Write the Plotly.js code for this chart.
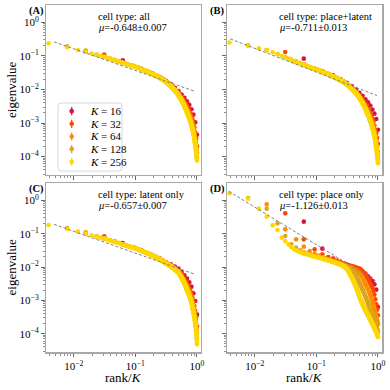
<!DOCTYPE html>
<html>
<head>
<meta charset="utf-8">
<script src="https://cdn.plot.ly/plotly-3.0.1.min.js"></script>
<style>
  html, body { margin: 0; padding: 0; background: #fff; }
  #chart { width: 390px; height: 390px; }
</style>
</head>
<body>
<div id="chart"></div>
<script>
// log10(eigenvalue), listed by rank 1..K for each K (x = rank/K)

// --- (A) cell type: all ---
const lgA16 = [-1.13,-1.38,-1.52,-1.64,-1.74,-1.84,-1.95,-2.05,-2.15,-2.25,-2.35,-2.46,-2.59,-2.75,-2.98,-3.35];
const lgA32 = [-0.96,-1.20,-1.30,-1.39,-1.46,-1.53,-1.59,-1.63,-1.69,-1.75,-1.81,-1.87,-1.93,-1.99,-2.05,-2.10,
  -2.17,-2.23,-2.29,-2.36,-2.43,-2.50,-2.57,-2.64,-2.72,-2.80,-2.89,-3.00,-3.13,-3.28,-3.46,-3.70];
const lgA64 = [-0.84,-1.02,-1.12,-1.20,-1.26,-1.30,-1.34,-1.39,-1.43,-1.46,-1.49,-1.53,-1.56,-1.59,-1.62,-1.64,
  -1.67,-1.70,-1.73,-1.76,-1.79,-1.82,-1.85,-1.88,-1.91,-1.95,-1.98,-2.01,-2.04,-2.07,-2.10,-2.13,
  -2.17,-2.20,-2.24,-2.27,-2.31,-2.35,-2.38,-2.42,-2.47,-2.50,-2.54,-2.58,-2.62,-2.66,-2.70,-2.74,
  -2.78,-2.83,-2.87,-2.92,-2.97,-3.02,-3.08,-3.14,-3.20,-3.29,-3.37,-3.45,-3.54,-3.64,-3.76,-3.89];
const lgA128 = [-0.71,-0.87,-0.96,-1.02,-1.08,-1.12,-1.16,-1.20,-1.23,-1.26,-1.28,-1.30,-1.32,-1.34,-1.36,-1.39,
  -1.41,-1.43,-1.44,-1.46,-1.48,-1.49,-1.51,-1.53,-1.54,-1.56,-1.57,-1.59,-1.60,-1.62,-1.63,-1.64,
  -1.66,-1.67,-1.69,-1.70,-1.72,-1.73,-1.75,-1.76,-1.78,-1.79,-1.81,-1.82,-1.84,-1.86,-1.87,-1.89,
  -1.91,-1.92,-1.94,-1.96,-1.97,-1.99,-2.01,-2.02,-2.04,-2.05,-2.06,-2.08,-2.10,-2.11,-2.13,-2.15,
  -2.17,-2.19,-2.21,-2.23,-2.25,-2.27,-2.29,-2.31,-2.32,-2.34,-2.36,-2.38,-2.40,-2.42,-2.45,-2.47,
  -2.48,-2.51,-2.53,-2.55,-2.57,-2.60,-2.62,-2.64,-2.66,-2.68,-2.70,-2.72,-2.74,-2.76,-2.79,-2.81,
  -2.82,-2.85,-2.87,-2.90,-2.92,-2.95,-2.97,-3.00,-3.03,-3.06,-3.09,-3.11,-3.14,-3.18,-3.21,-3.25,
  -3.26,-3.29,-3.33,-3.38,-3.42,-3.47,-3.52,-3.56,-3.61,-3.66,-3.72,-3.77,-3.83,-3.89,-3.95,-4.02];
const lgA256 = [-0.62,-0.74,-0.82,-0.88,-0.93,-0.97,-1.00,-1.03,-1.06,-1.09,-1.11,-1.13,-1.15,-1.17,-1.19,-1.21,
  -1.22,-1.24,-1.25,-1.27,-1.28,-1.29,-1.30,-1.31,-1.32,-1.33,
  -1.34,-1.35,-1.36,-1.37,-1.39,-1.40,
  -1.41,-1.42,-1.43,-1.44,-1.44,-1.45,-1.46,-1.47,-1.48,
  -1.49,-1.50,-1.50,-1.51,-1.52,-1.53,-1.54,-1.54,-1.55,-1.56,
  -1.57,-1.58,-1.58,-1.59,-1.60,-1.61,-1.61,-1.62,-1.63,-1.63,-1.64,-1.65,-1.65,
  -1.66,-1.67,-1.68,-1.68,-1.69,-1.70,-1.71,-1.71,-1.72,-1.73,-1.74,-1.74,-1.75,
  -1.76,-1.77,-1.77,-1.78,-1.79,-1.80,-1.80,-1.81,-1.82,-1.83,-1.83,-1.84,-1.85,
  -1.86,-1.87,-1.88,-1.88,-1.89,-1.90,-1.91,-1.92,-1.93,-1.93,-1.94,-1.95,
  -1.96,-1.97,-1.98,-1.98,-1.99,-2.00,-2.01,-2.02,-2.02,-2.03,-2.04,
  -2.05,-2.06,-2.07,-2.07,-2.08,-2.09,-2.10,-2.11,-2.12,-2.13,-2.13,-2.14,-2.15,-2.16,-2.17,
  -2.18,-2.19,-2.20,-2.21,-2.22,-2.23,-2.24,-2.25,-2.26,-2.27,-2.28,-2.29,-2.30,
  -2.31,-2.32,-2.33,-2.34,-2.35,-2.36,-2.37,-2.38,-2.39,-2.40,-2.41,-2.42,-2.43,
  -2.44,-2.45,-2.47,-2.48,-2.49,-2.50,-2.51,-2.52,-2.54,-2.55,-2.56,-2.57,
  -2.58,-2.59,-2.60,-2.61,-2.62,-2.64,-2.65,-2.66,-2.67,-2.68,-2.69,-2.70,-2.71,
  -2.72,-2.73,-2.74,-2.76,-2.77,-2.78,-2.79,-2.80,-2.81,-2.83,-2.84,-2.85,-2.86,
  -2.87,-2.88,-2.90,-2.91,-2.92,-2.93,-2.95,-2.96,-2.97,-2.98,-3.00,-3.01,-3.02,
  -3.03,-3.05,-3.06,-3.08,-3.09,-3.10,-3.12,-3.13,-3.15,-3.16,-3.17,-3.19,-3.20,
  -3.22,-3.24,-3.25,-3.27,-3.29,-3.31,-3.33,-3.35,-3.36,-3.38,-3.40,-3.42,
  -3.44,-3.47,-3.49,-3.51,-3.54,-3.56,-3.58,-3.61,-3.63,-3.65,-3.68,-3.70,-3.72,
  -3.75,-3.78,-3.81,-3.84,-3.86,-3.89,-3.92,-3.95,
  -3.98,-4.01,-4.04,-4.08,-4.12];

// --- (B) cell type: place+latent ---
const lgB16 = [-1.08,-1.46,-1.58,-1.70,-1.80,-1.90,-2.00,-2.10,-2.19,-2.29,-2.38,-2.48,-2.60,-2.72,-2.88,-3.20];
const lgB32 = [-0.88,-1.27,-1.38,-1.47,-1.54,-1.61,-1.67,-1.71,-1.77,-1.83,-1.89,-1.95,-2.01,-2.07,-2.13,-2.18,
  -2.25,-2.31,-2.37,-2.44,-2.51,-2.58,-2.65,-2.72,-2.80,-2.88,-2.97,-3.08,-3.21,-3.30,-3.45,-3.62];
const lgB64 = [-0.82,-1.03,-1.17,-1.25,-1.33,-1.38,-1.42,-1.47,-1.51,-1.54,-1.57,-1.61,-1.64,-1.67,-1.70,-1.72,
  -1.75,-1.78,-1.81,-1.84,-1.87,-1.90,-1.93,-1.96,-1.99,-2.03,-2.06,-2.09,-2.12,-2.15,-2.18,-2.21,
  -2.25,-2.28,-2.32,-2.35,-2.39,-2.43,-2.46,-2.50,-2.55,-2.58,-2.62,-2.66,-2.70,-2.74,-2.78,-2.82,
  -2.86,-2.91,-2.95,-3.00,-3.05,-3.10,-3.16,-3.22,-3.28,-3.37,-3.45,-3.53,-3.62,-3.72,-3.84,-3.97];
const lgB128 = [-0.68,-0.82,-0.94,-1.03,-1.11,-1.17,-1.21,-1.25,-1.29,-1.33,-1.36,-1.38,-1.40,
  -1.42,-1.44,-1.47,-1.49,-1.51,-1.52,-1.54,-1.56,-1.57,-1.59,-1.61,-1.62,-1.64,-1.65,-1.67,-1.68,
  -1.70,-1.71,-1.72,-1.74,-1.75,-1.77,-1.78,-1.80,-1.81,-1.83,-1.84,-1.86,-1.87,-1.89,-1.90,-1.92,
  -1.94,-1.95,-1.97,-1.99,-2.00,
  -2.02,-2.04,-2.05,-2.07,-2.09,-2.10,-2.12,-2.13,-2.14,-2.16,-2.18,-2.19,-2.21,-2.23,
  -2.25,-2.27,-2.29,-2.31,-2.33,-2.35,-2.37,-2.39,-2.40,-2.42,-2.44,-2.46,-2.48,-2.50,-2.53,-2.55,
  -2.56,-2.59,-2.61,-2.63,-2.65,-2.68,-2.70,-2.72,-2.74,-2.76,-2.78,-2.80,-2.82,-2.84,-2.87,-2.89,
  -2.90,-2.93,-2.95,-2.98,-3.00,-3.03,-3.05,-3.08,-3.11,-3.14,-3.17,-3.19,-3.22,-3.26,-3.29,-3.33,
  -3.34,-3.37,-3.41,-3.46,-3.50,-3.55,-3.60,-3.64,-3.69,-3.74,-3.80,-3.85,-3.91,-3.97,-4.03,-4.10];
const lgB256 = [-0.60,-0.70,-0.77,-0.83,-0.89,-0.95,-1.00,-1.04,-1.08,-1.12,-1.15,-1.18,-1.20,-1.22,-1.24,-1.26,
  -1.28,-1.30,-1.32,-1.34,-1.35,-1.37,-1.38,-1.39,-1.40,-1.41,
  -1.42,-1.43,-1.44,-1.45,-1.47,-1.48,
  -1.49,-1.50,-1.51,-1.52,-1.52,-1.53,-1.54,-1.55,-1.56,
  -1.57,-1.58,-1.58,-1.59,-1.60,-1.61,-1.62,-1.62,-1.63,-1.64,
  -1.65,-1.66,-1.66,-1.67,-1.68,-1.69,-1.69,-1.70,-1.71,-1.71,-1.72,-1.73,-1.73,
  -1.74,-1.75,-1.76,-1.76,-1.77,-1.78,-1.79,-1.79,-1.80,-1.81,-1.82,-1.82,-1.83,
  -1.84,-1.85,-1.85,-1.86,-1.87,-1.88,-1.88,-1.89,-1.90,-1.91,-1.91,-1.92,-1.93,
  -1.94,-1.95,-1.96,-1.96,-1.97,-1.98,-1.99,-2.00,-2.01,-2.01,-2.02,-2.03,
  -2.04,-2.05,-2.06,-2.06,-2.07,-2.08,-2.09,-2.10,-2.10,-2.11,-2.12,
  -2.13,-2.14,-2.15,-2.15,-2.16,-2.17,-2.18,-2.19,-2.20,-2.21,-2.21,-2.22,-2.23,-2.24,-2.25,
  -2.26,-2.27,-2.28,-2.29,-2.30,-2.31,-2.32,-2.33,-2.34,-2.35,-2.36,-2.37,-2.38,
  -2.39,-2.40,-2.41,-2.42,-2.43,-2.44,-2.45,-2.46,-2.47,-2.48,-2.49,-2.50,-2.51,
  -2.52,-2.53,-2.55,-2.56,-2.57,-2.58,-2.59,-2.60,-2.62,-2.63,-2.64,-2.65,
  -2.66,-2.67,-2.68,-2.69,-2.70,-2.72,-2.73,-2.74,-2.75,-2.76,-2.77,-2.78,-2.79,
  -2.80,-2.81,-2.82,-2.84,-2.85,-2.86,-2.87,-2.88,-2.89,-2.91,-2.92,-2.93,-2.94,
  -2.95,-2.96,-2.98,-2.99,-3.00,-3.01,-3.03,-3.04,-3.05,-3.06,-3.08,-3.09,-3.10,
  -3.11,-3.13,-3.14,-3.16,-3.17,-3.18,-3.20,-3.21,-3.23,-3.24,-3.25,-3.27,-3.28,
  -3.30,-3.32,-3.33,-3.35,-3.37,-3.39,-3.41,-3.43,-3.44,-3.46,-3.48,-3.50,
  -3.52,-3.55,-3.57,-3.59,-3.62,-3.64,-3.66,-3.69,-3.71,-3.73,-3.76,-3.78,-3.80,
  -3.83,-3.86,-3.89,-3.92,-3.94,-3.97,-4.00,-4.03,
  -4.06,-4.09,-4.12,-4.16,-4.20];

// --- (C) cell type: latent only ---
const lgC16 = [-1.28,-1.50,-1.64,-1.76,-1.86,-1.92,-1.99,-2.05,-2.15,-2.25,-2.35,-2.46,-2.59,-2.79,-3.02,-3.43];
const lgC32 = [-1.08,-1.32,-1.42,-1.51,-1.58,-1.65,-1.71,-1.75,-1.81,-1.87,-1.91,-1.95,-1.99,-2.03,-2.07,-2.10,
  -2.17,-2.23,-2.29,-2.36,-2.43,-2.50,-2.57,-2.64,-2.72,-2.80,-2.93,-3.04,-3.17,-3.32,-3.50,-3.78];
const lgC64 = [-0.96,-1.14,-1.24,-1.32,-1.38,-1.42,-1.46,-1.51,-1.55,-1.58,-1.61,-1.65,-1.68,-1.71,-1.74,-1.76,
  -1.79,-1.82,-1.85,-1.88,-1.90,-1.92,-1.94,-1.96,-1.98,-2.01,-2.03,-2.05,-2.07,-2.09,-2.11,-2.13,
  -2.17,-2.20,-2.24,-2.27,-2.31,-2.35,-2.38,-2.42,-2.47,-2.50,-2.54,-2.58,-2.62,-2.66,-2.70,-2.74,
  -2.78,-2.83,-2.87,-2.92,-2.97,-3.06,-3.12,-3.18,-3.24,-3.33,-3.41,-3.49,-3.58,-3.68,-3.84,-3.97];
const lgC128 = [-0.83,-0.99,-1.08,-1.14,-1.20,-1.24,-1.28,-1.32,-1.35,-1.38,-1.40,-1.42,-1.44,-1.46,-1.48,-1.51,
  -1.53,-1.55,-1.56,-1.58,-1.60,-1.61,-1.63,-1.65,-1.66,-1.68,-1.69,-1.71,-1.72,-1.74,-1.75,-1.76,
  -1.78,-1.79,-1.81,-1.82,-1.84,-1.85,-1.87,-1.88,
  -1.90,-1.90,-1.92,-1.92,-1.94,-1.95,-1.96,-1.97,-1.99,-1.99,-2.01,-2.02,-2.03,-2.04,-2.06,-2.06,
  -2.08,-2.08,-2.09,-2.10,-2.12,-2.12,-2.14,-2.15,
  -2.17,-2.19,-2.21,-2.23,-2.25,-2.27,-2.29,-2.31,-2.32,-2.34,-2.36,-2.38,-2.40,-2.42,-2.45,-2.47,
  -2.48,-2.51,-2.53,-2.55,-2.57,-2.60,-2.62,-2.64,-2.66,-2.68,-2.70,-2.72,-2.74,-2.76,-2.79,-2.81,
  -2.82,-2.85,-2.87,-2.90,-2.92,-2.95,-2.97,-3.00,-3.03,-3.06,-3.09,
  -3.15,-3.18,-3.22,-3.25,-3.29,-3.30,-3.33,-3.37,-3.42,-3.46,-3.51,-3.56,-3.60,-3.65,-3.70,-3.76,
  -3.81,-3.87,-3.97,-4.05,-4.14];
const lgC256 = [-0.74,-0.86,-0.94,-1.00,-1.05,-1.09,-1.12,-1.15,-1.18,-1.21,-1.23,-1.25,-1.27,-1.29,-1.31,-1.33,
  -1.34,-1.36,-1.37,-1.39,-1.40,-1.41,-1.42,-1.43,-1.44,-1.45,
  -1.46,-1.47,-1.48,-1.49,-1.51,-1.52,
  -1.53,-1.54,-1.55,-1.56,-1.56,-1.57,-1.58,-1.59,-1.60,
  -1.61,-1.62,-1.62,-1.63,-1.64,-1.65,-1.66,-1.66,-1.67,-1.68,
  -1.69,-1.70,-1.70,-1.71,-1.72,-1.73,-1.73,-1.74,-1.75,-1.75,-1.76,-1.77,-1.77,
  -1.78,-1.79,-1.80,-1.80,-1.81,-1.82,-1.83,-1.83,-1.84,-1.85,-1.86,-1.86,-1.87,
  -1.88,-1.89,-1.89,
  -1.90,-1.91,-1.91,-1.91,-1.92,-1.93,-1.93,-1.93,-1.94,-1.95,-1.95,-1.96,
  -1.97,-1.97,-1.97,-1.98,-1.99,-2.00,-2.00,-2.00,-2.01,-2.02,-2.02,-2.03,
  -2.04,-2.04,-2.04,-2.05,-2.06,-2.07,-2.07,-2.07,-2.08,-2.09,-2.09,-2.10,
  -2.10,-2.11,-2.11,-2.12,-2.13,-2.14,-2.14,-2.14,-2.15,-2.16,-2.16,-2.17,
  -2.18,-2.19,-2.20,-2.21,-2.22,-2.23,-2.24,-2.25,-2.26,-2.27,-2.28,-2.29,-2.30,
  -2.31,-2.32,-2.33,-2.34,-2.35,-2.36,-2.37,-2.38,-2.39,-2.40,-2.41,-2.42,-2.43,
  -2.44,-2.45,-2.47,-2.48,-2.49,-2.50,-2.51,-2.52,-2.54,-2.55,-2.56,-2.57,
  -2.58,-2.59,-2.60,-2.61,-2.62,-2.64,-2.65,-2.66,-2.67,-2.68,-2.69,-2.70,-2.71,
  -2.72,-2.73,-2.74,-2.76,-2.77,-2.78,-2.79,-2.80,-2.81,-2.83,-2.84,-2.85,-2.86,
  -2.87,-2.88,-2.90,-2.91,-2.92,-2.93,-2.95,-2.96,-2.97,-2.98,-3.00,-3.01,-3.02,
  -3.03,-3.05,-3.06,-3.08,-3.09,-3.10,-3.12,-3.13,-3.15,-3.16,
  -3.21,-3.23,-3.24,
  -3.26,-3.28,-3.29,-3.31,-3.33,-3.35,-3.37,-3.39,-3.40,-3.42,-3.44,-3.46,
  -3.48,-3.51,-3.53,-3.55,-3.58,-3.60,-3.62,-3.65,-3.67,-3.69,-3.72,-3.74,-3.76,
  -3.79,-3.82,-3.85,-3.88,-3.90,-3.93,-3.96,
  -4.01,-4.06,-4.11,-4.17,-4.24,-4.32];

// --- (D) cell type: place only ---
const lgD16 = [-0.64,-1.45,-1.75,-1.88,-1.94,-2.00,-2.05,-2.10,-2.15,-2.20,-2.28,-2.35,-2.42,-2.52,-2.68,-3.20];
const lgD32 = [-0.39,-1.17,-1.47,-1.62,-1.70,-1.76,-1.81,-1.86,-1.89,-1.92,-1.95,-1.97,-1.99,-2.01,-2.03,-2.05,
  -2.08,-2.12,-2.18,-2.23,-2.29,-2.35,-2.42,-2.49,-2.56,-2.63,-2.72,-2.83,-2.97,-3.12,-3.28,-3.45];
const lgD64 = [-0.12,-0.87,-1.17,-1.39,-1.52,-1.60,-1.66,-1.70,-1.74,-1.77,-1.80,-1.82,-1.84,-1.86,-1.88,-1.90,
  -1.92,-1.94,-1.96,-1.97,-1.99,-2.00,-2.02,-2.03,-2.05,-2.06,-2.08,-2.09,-2.11,-2.13,-2.15,-2.18,
  -2.21,-2.24,-2.28,-2.32,-2.37,-2.42,-2.46,-2.51,-2.55,-2.59,-2.62,-2.65,-2.70,-2.75,-2.79,-2.84,
  -2.89,-2.93,-2.98,-3.03,-3.08,-3.14,-3.20,-3.25,-3.31,-3.36,-3.41,-3.47,-3.52,-3.58,-3.64,-3.72];
const lgD128 = [0.07,-0.25,-0.69,-1.07,-1.32,-1.42,-1.50,-1.56,-1.60,-1.63,-1.66,-1.68,-1.70,-1.71,-1.72,-1.74,
  -1.75,-1.77,-1.78,-1.79,-1.80,-1.82,-1.83,-1.84,-1.85,-1.86,-1.87,-1.88,-1.89,-1.90,-1.91,-1.92,
  -1.93,-1.94,-1.95,-1.96,-1.97,-1.98,-1.99,-1.99,-2.00,-2.01,-2.02,-2.03,-2.04,-2.05,-2.06,-2.08,
  -2.10,-2.12,
  -2.14,-2.16,-2.18,-2.21,-2.23,-2.26,-2.28,-2.31,-2.33,-2.36,
  -2.39,-2.41,-2.44,-2.47,-2.49,-2.52,-2.55,-2.58,-2.60,-2.63,-2.66,
  -2.68,-2.71,-2.73,-2.76,-2.78,-2.81,-2.83,-2.86,-2.88,-2.91,-2.93,-2.96,
  -2.98,-3.01,-3.03,-3.06,-3.08,-3.11,-3.13,-3.16,-3.18,-3.21,-3.23,-3.26,
  -3.28,-3.30,-3.32,-3.34,-3.36,-3.38,-3.39,-3.41,-3.43,-3.45,-3.47,-3.49,-3.51,-3.52,-3.54,-3.56,
  -3.58,-3.61,-3.63,-3.65,-3.68,-3.70,-3.73,-3.75,-3.78,-3.80,-3.83,-3.85,
  -3.87,-3.89,-3.91,-3.94,-3.97];
const lgD256 = [0.21,0.05,-0.25,-0.49,-0.75,-0.89,-1.12,-1.22,-1.32,-1.40,-1.46,-1.50,-1.53,-1.56,-1.58,-1.60,
  -1.61,-1.62,-1.63,-1.64,-1.66,-1.67,-1.68,-1.69,-1.70,-1.70,-1.71,-1.72,-1.73,-1.73,-1.74,-1.75,
  -1.76,-1.76,-1.77,-1.78,-1.78,-1.79,-1.80,-1.80,-1.81,-1.81,-1.82,-1.83,-1.83,-1.84,-1.84,-1.85,
  -1.86,-1.86,-1.87,-1.87,-1.88,-1.88,-1.89,-1.89,-1.90,-1.90,-1.91,-1.91,-1.92,-1.92,-1.93,-1.93,
  -1.94,-1.94,-1.95,-1.96,-1.96,-1.97,-1.98,-1.98,-1.99,-2.00,-2.01,-2.02,-2.03,-2.04,-2.05,-2.06,
  -2.07,-2.08,
  -2.10,-2.11,-2.13,-2.15,-2.16,-2.18,-2.20,-2.21,-2.23,-2.25,-2.26,-2.28,-2.30,-2.31,-2.33,-2.35,-2.36,
  -2.38,-2.40,-2.41,-2.43,-2.45,-2.47,-2.48,-2.50,-2.52,-2.54,-2.55,-2.57,-2.59,-2.61,-2.62,-2.64,-2.66,
  -2.68,-2.70,-2.72,-2.74,-2.76,-2.77,-2.79,-2.81,-2.83,-2.85,-2.87,-2.89,-2.91,-2.92,-2.94,-2.96,
  -2.97,-2.99,-3.00,-3.01,-3.02,-3.04,-3.05,-3.06,-3.07,-3.09,-3.10,-3.11,-3.12,-3.14,-3.15,-3.16,
  -3.17,-3.19,-3.20,-3.21,-3.22,-3.24,-3.25,-3.26,
  -3.27,-3.28,-3.29,-3.30,-3.30,-3.31,-3.32,-3.33,-3.34,-3.35,-3.36,-3.37,-3.38,-3.38,-3.39,-3.40,-3.41,
  -3.42,-3.43,-3.44,-3.45,-3.45,-3.46,-3.47,-3.48,-3.49,-3.50,-3.51,-3.52,-3.52,-3.53,-3.54,-3.55,-3.56,
  -3.57,-3.58,-3.58,-3.59,-3.60,-3.61,-3.62,-3.63,-3.63,-3.64,-3.65,-3.66,-3.67,-3.68,-3.68,-3.69,-3.70,
  -3.71,-3.72,-3.73,-3.73,-3.74,-3.75,-3.76,-3.77,-3.78,-3.78,-3.79,-3.80,-3.81,-3.82,-3.83,-3.83,-3.84,-3.85,
  -3.86,-3.86,-3.87,-3.88,-3.88,-3.89,-3.90,-3.90,-3.91,-3.92,-3.92,-3.93,-3.94,-3.94,-3.95,-3.96,
  -3.96,-3.97,-3.98,-3.98,-3.99,-4.00,-4.01,-4.02,-4.03,-4.04,-4.05,-4.06,-4.07,-4.08,-4.10];

// power-law fit (dashed) end points, rank/K and eigenvalue
const fitXA = [0.0048, 0.94], fitYA = [0.263, 0.0087];
const fitXB = [0.0040, 0.96], fitYB = [0.324, 0.0066];
const fitXC = [0.0048, 0.94], fitYC = [0.190, 0.0060];
const fitXD = [0.0038, 0.91], fitYD = [1.86, 0.0039];

const sizes = [16, 32, 64, 128, 256];
const kColors = ['#dc143c', '#ff4500', '#ff8c00', '#daa520', '#ffd700'];
const letters = ['(A)', '(B)', '(C)', '(D)'];
const cellTypes = ['all', 'place+latent', 'latent only', 'place only'];
const muTexts = ['-0.648±0.007', '-0.711±0.013', '-0.657±0.007', '-1.126±0.013'];

const panelData = [
  [lgA16, lgA32, lgA64, lgA128, lgA256],
  [lgB16, lgB32, lgB64, lgB128, lgB256],
  [lgC16, lgC32, lgC64, lgC128, lgC256],
  [lgD16, lgD32, lgD64, lgD128, lgD256]
];
const panelFits = [[fitXA, fitYA], [fitXB, fitYB], [fitXC, fitYC], [fitXD, fitYD]];

// panel geometry (plot area 336 x 347 px inside margins)
const xDom = [[0, 0.4613], [0.5387, 1], [0, 0.4613], [0.5387, 1]];
const yDom = [[0.5101, 1], [0.5101, 1], [0, 0.487], [0, 0.487]];

const FONT = 'Liberation Serif, Times New Roman, serif';
const traces = [];

panelData.forEach((series, p) => {
  const xr = p === 0 ? 'x' : 'x' + (p + 1);
  const yr = p === 0 ? 'y' : 'y' + (p + 1);
  series.forEach((lg, k) => {
    traces.push({
      x: lg.map((_, i) => (i + 1) / lg.length),
      y: lg.map(v => Math.pow(10, v)),
      xaxis: xr, yaxis: yr,
      mode: 'markers', type: 'scatter',
      marker: { color: kColors[k], size: 4.6, line: { width: 0 } },
      showlegend: false, hoverinfo: 'skip'
    });
  });
  traces.push({
    x: panelFits[p][0], y: panelFits[p][1],
    xaxis: xr, yaxis: yr,
    mode: 'lines', type: 'scatter',
    line: { color: '#808080', width: 1, dash: '3px,2px' },
    showlegend: false, hoverinfo: 'skip'
  });
});

// hand-built legend in panel A (own tiny axis)
const legRows = sizes.map((_, k) => 0.88 - k * 0.186);
sizes.forEach((K, k) => {
  traces.push({
    x: [0.214], y: [legRows[k]], xaxis: 'x5', yaxis: 'y5',
    mode: 'markers', type: 'scatter',
    marker: { color: kColors[k], size: 4.6 },
    error_y: { type: 'constant', value: 0.06, thickness: 1.3, width: 0, color: kColors[k] },
    showlegend: false, hoverinfo: 'skip'
  });
});

function minorVals(lo, hi) {
  const v = [];
  for (let e = lo; e <= hi; e++) for (let m = 2; m <= 9; m++) v.push(m * Math.pow(10, e));
  return v;
}

const sup = n => '10<sup>' + (n < 0 ? '\u2212' + (-n) : n) + '</sup>';

const layout = {
  width: 390, height: 390,
  margin: { l: 46, r: 8, t: 5, b: 38 },
  paper_bgcolor: '#fff', plot_bgcolor: '#fff',
  font: { family: FONT, size: 11, color: '#000' },
  showlegend: false,
  annotations: [],
  shapes: []
};

for (let p = 0; p < 4; p++) {
  const sx = p === 0 ? '' : String(p + 1);
  const bottomRow = p >= 2, leftCol = p % 2 === 0;
  layout['xaxis' + sx] = {
    type: 'log', range: [-2.45, 0.065], domain: xDom[p], anchor: 'y' + sx,
    showgrid: false, zeroline: false, showline: true, mirror: true,
    linecolor: '#a8a8a8', linewidth: 1.5,
    ticks: 'outside', ticklen: 3.5, tickwidth: 0.8, tickcolor: '#444',
    tickmode: 'array', tickvals: [0.01, 0.1, 1], ticktext: [sup(-2), sup(-1), sup(0)],
    showticklabels: bottomRow, tickfont: { family: FONT, size: 11, color: '#000' },
    minor: { ticks: 'outside', ticklen: 2, tickwidth: 0.6, tickcolor: '#444',
             tickmode: 'array', tickvals: minorVals(-3, -1) },
    fixedrange: true
  };
  layout['yaxis' + sx] = {
    type: 'log', range: [-4.55, 0.52], domain: yDom[p], anchor: 'x' + sx,
    showgrid: false, zeroline: false, showline: true, mirror: true,
    linecolor: '#a8a8a8', linewidth: 1.5,
    ticks: 'outside', ticklen: 3.5, tickwidth: 0.8, tickcolor: '#444',
    tickmode: 'array', tickvals: [1, 0.1, 0.01, 0.001, 0.0001],
    ticktext: [sup(0), sup(-1), sup(-2), sup(-3), sup(-4)],
    showticklabels: leftCol, tickfont: { family: FONT, size: 11, color: '#000' },
    minor: { ticks: 'outside', ticklen: 2, tickwidth: 0.6, tickcolor: '#444',
             tickmode: 'array', tickvals: minorVals(-5, -1) },
    fixedrange: true
  };

  const x0 = xDom[p][0], y1 = yDom[p][1];
  const textX = x0 + 50 / 336;
  layout.annotations.push(
    { text: '<b>' + letters[p] + '</b>', xref: 'paper', yref: 'paper',
      x: x0 - 10 / 336, y: y1 - 6 / 347, xanchor: 'center', yanchor: 'middle',
      showarrow: false, font: { family: FONT, size: 10.5 } },
    { text: 'cell type: ' + cellTypes[p], xref: 'paper', yref: 'paper',
      x: textX, y: y1 - 11.5 / 347, xanchor: 'left', yanchor: 'middle',
      showarrow: false, font: { family: FONT, size: 10.5 } },
    { text: '<i>\u03bc</i>=' + muTexts[p], xref: 'paper', yref: 'paper',
      x: textX, y: y1 - 22 / 347, xanchor: 'left', yanchor: 'middle',
      showarrow: false, font: { family: FONT, size: 10.5 } }
  );
  if (leftCol) {
    layout.annotations.push({
      text: 'eigenvalue', xref: 'paper', yref: 'paper', textangle: -90,
      x: -34 / 336, y: (yDom[p][0] + yDom[p][1]) / 2, xanchor: 'center', yanchor: 'middle',
      showarrow: false, font: { family: FONT, size: 13 }
    });
  }
  if (bottomRow) {
    layout.annotations.push({
      text: 'rank/<i>K</i>', xref: 'paper', yref: 'paper',
      x: (xDom[p][0] + xDom[p][1]) / 2, y: -25 / 347, xanchor: 'center', yanchor: 'middle',
      showarrow: false, font: { family: FONT, size: 13 }
    });
  }
}

// legend box and its axis
const lx0 = 12 / 336, lx1 = 76 / 336, ly0 = (352 - 171) / 347, ly1 = (352 - 103) / 347;
layout.xaxis5 = { domain: [lx0, lx1], range: [0, 1], visible: false, fixedrange: true, anchor: 'y5' };
layout.yaxis5 = { domain: [ly0, ly1], range: [0, 1], visible: false, fixedrange: true, anchor: 'x5' };
const rx = 3 / 336, ry = 3 / 347;
layout.shapes.push({
  type: 'path', xref: 'paper', yref: 'paper', layer: 'above',
  path: `M ${lx0 + rx},${ly0} L ${lx1 - rx},${ly0} Q ${lx1},${ly0} ${lx1},${ly0 + ry} ` +
        `L ${lx1},${ly1 - ry} Q ${lx1},${ly1} ${lx1 - rx},${ly1} L ${lx0 + rx},${ly1} ` +
        `Q ${lx0},${ly1} ${lx0},${ly1 - ry} L ${lx0},${ly0 + ry} Q ${lx0},${ly0} ${lx0 + rx},${ly0} Z`,
  line: { color: '#d6d6d6', width: 1 }, fillcolor: 'rgba(0,0,0,0)'
});
sizes.forEach((K, k) => {
  layout.annotations.push({
    text: '<i>K</i> = ' + K, xref: 'x5', yref: 'y5', x: 0.47, y: legRows[k],
    xanchor: 'left', yanchor: 'middle', showarrow: false,
    font: { family: FONT, size: 11 }
  });
});

Plotly.newPlot('chart', traces, layout, { displayModeBar: false, staticPlot: true });
</script>
</body>
</html>
